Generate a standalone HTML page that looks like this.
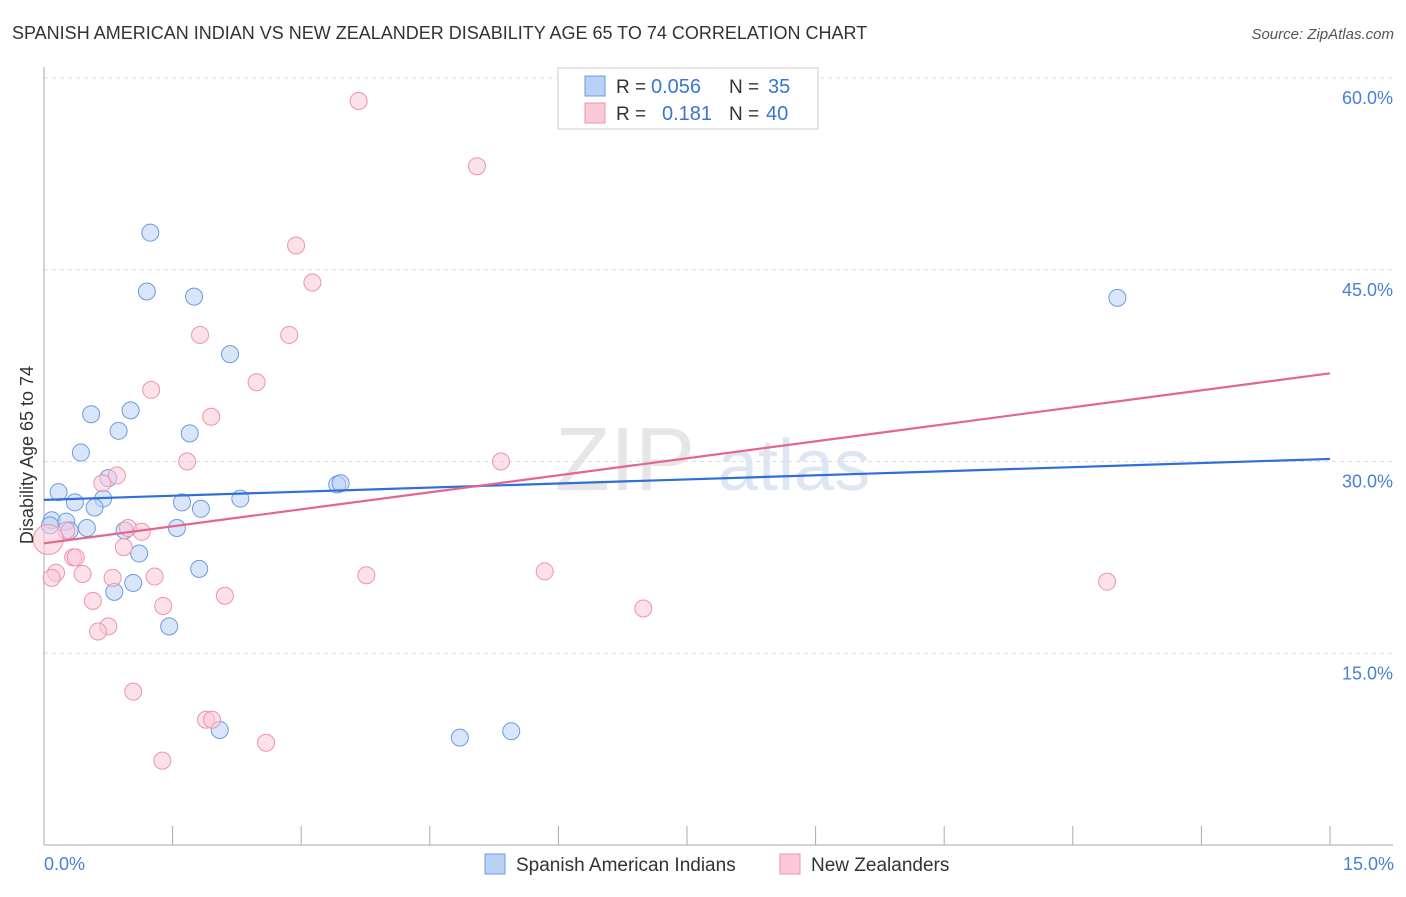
<!DOCTYPE html>
<html><head><meta charset="utf-8"><style>
body{margin:0;background:#fff;font-family:"Liberation Sans",sans-serif}
svg text{font-family:"Liberation Sans",sans-serif}
</style></head><body>
<svg id="c" width="1406" height="892">
<text x="12" y="39" font-size="18" fill="#333">SPANISH AMERICAN INDIAN VS NEW ZEALANDER DISABILITY AGE 65 TO 74 CORRELATION CHART</text>
<text x="1394" y="39" font-size="15" fill="#555" text-anchor="end" font-style="italic">Source: ZipAtlas.com</text>
<g><text x="555" y="490" font-size="90" fill="#e6e6e6" font-family="Liberation Serif">ZIP</text><text x="718" y="490" font-size="72" fill="#dde6f3">atlas</text></g>
<g id="grid"></g><g id="axes"></g><g id="pts"></g><g id="lines"></g>
<text transform="translate(33,455) rotate(-90)" font-size="18" fill="#333" text-anchor="middle">Disability Age 65 to 74</text>
<text x="44" y="870" font-size="18" fill="#4a7fd6">0.0%</text>
<text x="1394" y="870" font-size="18" fill="#4a7fd6" text-anchor="end">15.0%</text>
<g>
<rect x="558" y="68" width="260" height="61" fill="#fff" stroke="#ccc"/>
<rect x="585" y="76" width="20" height="20" fill="#b9d1f5" stroke="#6b9be0"/>
<rect x="585" y="103" width="20" height="20" fill="#fbc9d7" stroke="#ee93ae"/>
<text x="616" y="93" font-size="19" fill="#333">R =</text>
<text x="651" y="93" font-size="20" fill="#3a74d4">0.056</text>
<text x="729" y="93" font-size="19" fill="#333">N =</text>
<text x="768" y="93" font-size="20" fill="#3a74d4">35</text>
<text x="616" y="120" font-size="19" fill="#333">R =</text>
<text x="662" y="120" font-size="20" fill="#3a74d4">0.181</text>
<text x="729" y="120" font-size="19" fill="#333">N =</text>
<text x="766" y="120" font-size="20" fill="#3a74d4">40</text>
</g>
<g>
<rect x="485" y="854" width="20" height="20" fill="#b9d1f5" stroke="#6b9be0"/>
<text x="516" y="871" font-size="19" fill="#333">Spanish American Indians</text>
<rect x="780" y="854" width="20" height="20" fill="#fbc9d7" stroke="#ee93ae"/>
<text x="811" y="871" font-size="19" fill="#333">New Zealanders</text>
</g>
</svg>
<script>
const yTicks=[15,30,45,60];
const yTickLabels=["15.0%","30.0%","45.0%","60.0%"];
const xTicks=[0,1.5,3,4.5,6,7.5,9,10.5,12,13.5,15];
const blueX=[1.24,1.20,1.75,2.17,0.55,1.01,0.87,1.70,0.43,0.75,0.17,0.36,0.69,0.59,1.61,1.83,2.29,3.42,3.46,0.09,0.26,0.50,0.94,1.55,1.11,1.81,1.04,0.82,1.46,2.05,4.85,5.45,12.52,0.07,0.30];
const blueY=[47.9,43.3,42.9,38.4,33.7,34.0,32.4,32.2,30.7,28.7,27.6,26.8,27.1,26.4,26.8,26.3,27.1,28.2,28.3,25.4,25.3,24.8,24.6,24.8,22.8,21.6,20.5,19.8,17.1,9.0,8.4,8.9,42.8,25.0,24.6];
const pinkX=[3.67,5.05,2.94,3.13,1.82,2.86,2.48,1.25,1.95,1.67,5.33,0.85,0.68,0.98,1.14,0.26,0.93,0.34,0.37,3.76,5.84,0.14,0.45,0.80,1.29,0.09,1.39,0.57,2.11,0.75,0.63,6.99,12.40,1.04,1.89,1.96,2.59,1.38,0.05];
const pinkY=[58.2,53.1,46.9,44.0,39.9,39.9,36.2,35.6,33.5,30.0,30.0,28.9,28.3,24.8,24.5,24.6,23.3,22.5,22.5,21.1,21.4,21.3,21.2,20.9,21.0,20.9,18.7,19.1,19.5,17.1,16.7,18.5,20.6,12.0,9.8,9.8,8.0,6.6,23.9];
const blueTrend=[27.0,30.2];
const pinkTrend=[23.6,36.9];
const X=v=>44+v/15*1286, Y=v=>845-v/60*767;
const NS="http://www.w3.org/2000/svg";
function mk(t,a,p){const e=document.createElementNS(NS,t);for(const k in a)e.setAttribute(k,a[k]);document.getElementById(p).appendChild(e);return e;}
yTicks.forEach((t,i)=>{
 const l=mk('line',{x1:44,x2:1393,y1:Y(t),y2:Y(t),stroke:'#ddd','stroke-dasharray':'4,4'},'grid');
 
 
 const tx=mk('text',{x:1393,y:Y(t)+26,'font-size':18,fill:'#4a7fd6','text-anchor':'end'},'grid');tx.textContent=yTickLabels[i];
 
 
});
mk('line',{x1:44,x2:44,y1:67,y2:845,stroke:'#aaa'},'axes');
mk('line',{x1:44,x2:1393,y1:845,y2:845,stroke:'#aaa'},'axes');
xTicks.forEach(t=>{const l=mk('line',{x1:X(t),x2:X(t),y1:845,y2:826,stroke:'#aaa'},'axes');
 
 });
function pts(xs,ys,f,s,n){xs.forEach((x,i)=>{const c=mk('circle',{cx:X(x),cy:Y(ys[i]),r:(n=='pink-point'&&i==xs.length-1)?15:8.5,fill:f,'fill-opacity':0.55,stroke:s,'stroke-width':1},'pts');
 
 });}
pts(blueX,blueY,'#b9d1f5','#6b9be0','blue-point');
pts(pinkX,pinkY,'#fbc9d7','#ee93ae','pink-point');
const b=mk('line',{x1:X(0),x2:X(15),y1:Y(blueTrend[0]),y2:Y(blueTrend[1]),stroke:'#2f6fd6','stroke-width':2.2},'lines');


const p=mk('line',{x1:X(0),x2:X(15),y1:Y(pinkTrend[0]),y2:Y(pinkTrend[1]),stroke:'#e4668f','stroke-width':2.2},'lines');


</script>
</body></html>
